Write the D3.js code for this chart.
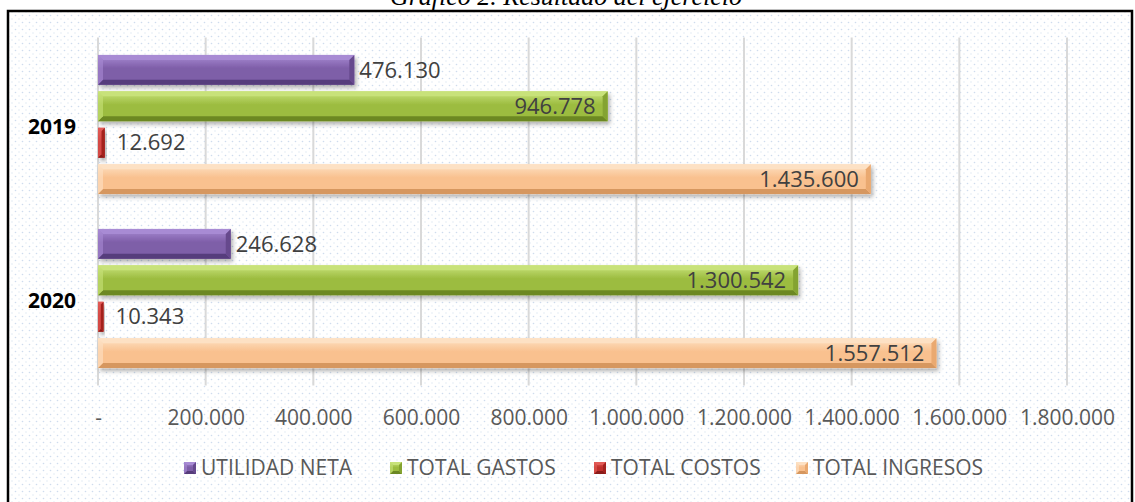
<!DOCTYPE html>
<html>
<head>
<meta charset="utf-8">
<script src="https://cdn.jsdelivr.net/npm/d3@7"></script>
<style>
  body { margin: 0; background: #fff; }
  svg { display: block; }
</style>
</head>
<body>
<div id="svg"></div>
<script>
var years = ["2019", "2020"]
var series = ["UTILIDAD NETA", "TOTAL GASTOS", "TOTAL COSTOS", "TOTAL INGRESOS"]
var utilidadNeta = [476130, 246628]
var totalGastos = [946778, 1300542]
var totalCostos = [12692, 10343]
var totalIngresos = [1435600, 1557512]
var tickValues = [0, 200000, 400000, 600000, 800000, 1000000, 1200000, 1400000, 1600000, 1800000]
var labelInside = [false, true, false, true]

// base, top bevel, bottom bevel, right bevel
var colors = [
    ["#7e5ea8", "#a88bd4", "#563c7b", "#66498d"],
    ["#9cbc40", "#c8e27a", "#6c8824", "#84a331"],
    ["#c0302c", "#e25b57", "#8a1b19", "#a3221f"],
    ["#f9c18f", "#fde1c4", "#d6975f", "#eaa970"]
]

var seriesValues = [utilidadNeta, totalGastos, totalCostos, totalIngresos]

var W = 1135, H = 502
var margin = {top: 37.5, left: 98, right: 1067, bottom: 385.5}

var svg = d3.select("#svg")
    .append("svg")
    .attr("width", W)
    .attr("height", H)

var defs = svg.append("defs")

var pat = defs.append("pattern")
    .attr("id", "dots")
    .attr("width", 7)
    .attr("height", 7)
    .attr("patternUnits", "userSpaceOnUse")
pat.append("rect").attr("width", 7).attr("height", 7).attr("fill", "#ffffff")
pat.append("circle").attr("cx", 1.5).attr("cy", 1.5).attr("r", 0.8).attr("fill", "#cfdcee")
pat.append("circle").attr("cx", 5).attr("cy", 5).attr("r", 0.7).attr("fill", "#dde6f3")

var shadow = defs.append("filter")
    .attr("id", "shadow")
    .attr("x", "-10%").attr("y", "-30%")
    .attr("width", "130%").attr("height", "180%")
shadow.append("feDropShadow")
    .attr("dx", 2).attr("dy", 3)
    .attr("stdDeviation", 2)
    .attr("flood-color", "#000")
    .attr("flood-opacity", 0.3)

colors.forEach(function(c, i) {
    var g = defs.append("linearGradient")
        .attr("id", "grad" + i)
        .attr("x1", 0).attr("y1", 0).attr("x2", 0).attr("y2", 1)
    g.append("stop").attr("offset", "0%").attr("stop-color", c[1])
    g.append("stop").attr("offset", "45%").attr("stop-color", c[0])
    g.append("stop").attr("offset", "100%").attr("stop-color", c[0])
})

// frame + background
svg.append("rect")
    .attr("x", 8).attr("y", 11)
    .attr("width", 1124).attr("height", 500)
    .attr("fill", "url(#dots)")
    .attr("stroke", "#000")
    .attr("stroke-width", 2.5)

svg.append("text")
    .attr("x", 566)
    .attr("y", 5)
    .attr("text-anchor", "middle")
    .style("font-family", "'Liberation Serif', 'Times New Roman', serif")
    .style("font-style", "italic")
    .style("font-size", "26px")
    .style("fill", "#000")
    .text("Gráfico 2. Resultado del ejercicio")

var x = d3.scaleLinear()
    .domain([0, 1800000])
    .range([margin.left, margin.right])

var y = d3.scaleBand()
    .domain(years)
    .range([margin.top, margin.bottom])
    .paddingInner(0.2)
    .paddingOuter(0.1)

var ySub = d3.scaleBand()
    .domain(series)
    .range([0, y.bandwidth()])
    .paddingInner(0.18)

// gridlines
svg.append("g")
    .selectAll("line")
    .data(tickValues)
    .enter()
    .append("line")
    .attr("x1", function(d) { return x(d) })
    .attr("x2", function(d) { return x(d) })
    .attr("y1", margin.top)
    .attr("y2", margin.bottom)
    .style("stroke", "#d9d9d9")
    .style("stroke-width", 2)

var fmt = function(v) {
    if (v == 0) return "-"
    return d3.format(",")(v).replace(/,/g, ".")
}

var xAxis = svg.append("g")
    .attr("transform", "translate(0," + 418 + ")")
    .call(d3.axisBottom(x).tickValues(tickValues).tickFormat(fmt).tickSize(0).tickPadding(0))
xAxis.select(".domain").remove()
xAxis.selectAll("text")
    .attr("dy", "0.35em")
    .style("font-family", "'Open Sans', sans-serif")
    .style("font-size", "21px")
    .style("fill", "#595959")

// category labels
svg.append("g")
    .selectAll("text")
    .data(years)
    .enter()
    .append("text")
    .attr("x", 76)
    .attr("y", function(d) { return y(d) + y.bandwidth() / 2 + 2 })
    .attr("dy", "0.35em")
    .attr("text-anchor", "end")
    .style("font-family", "'Open Sans', sans-serif")
    .style("font-weight", "bold")
    .style("font-size", "21px")
    .style("fill", "#000")
    .text(function(d) { return d })

function bevelBar(g, x0, y0, w, h, ci, b) {
    var c = colors[ci]
    b = Math.min(b, w / 2, h / 2)
    var x1 = x0 + w, y1 = y0 + h
    g.append("rect")
        .attr("x", x0).attr("y", y0)
        .attr("width", w).attr("height", h)
        .attr("fill", "url(#grad" + ci + ")")
    g.append("polygon")
        .attr("points", [[x0, y0], [x1, y0], [x1 - b, y0 + b], [x0 + b, y0 + b]].join(" "))
        .attr("fill", c[1])
    g.append("polygon")
        .attr("points", [[x0, y1], [x1, y1], [x1 - b, y1 - b], [x0 + b, y1 - b]].join(" "))
        .attr("fill", c[2])
    g.append("polygon")
        .attr("points", [[x1, y0], [x1, y1], [x1 - b, y1 - b], [x1 - b, y0 + b]].join(" "))
        .attr("fill", c[3])
    g.append("polygon")
        .attr("points", [[x0, y0], [x0, y1], [x0 + b, y1 - b], [x0 + b, y0 + b]].join(" "))
        .attr("fill", c[1])
        .attr("opacity", 0.6)
}

// bars
years.forEach(function(yr, yi) {
    series.forEach(function(s, si) {
        var v = seriesValues[si][yi]
        var by = y(yr) + ySub(s)
        var bw = x(v) - x(0)
        var g = svg.append("g").attr("filter", "url(#shadow)")
        bevelBar(g, x(0), by, bw, ySub.bandwidth(), si, 5)
    })
})

// value labels
var labelGap = [5, 12, 12, 12]
years.forEach(function(yr, yi) {
    series.forEach(function(s, si) {
        var v = seriesValues[si][yi]
        var inside = labelInside[si]
        svg.append("text")
            .attr("x", inside ? x(v) - labelGap[si] : x(v) + labelGap[si])
            .attr("y", y(yr) + ySub(s) + ySub.bandwidth() / 2)
            .attr("dy", "0.35em")
            .attr("text-anchor", inside ? "end" : "start")
            .style("font-family", "'Open Sans', sans-serif")
            .style("font-size", "22px")
            .style("fill", "#404040")
            .text(fmt(v))
    })
})

// legend
var legendX = [184, 390, 594, 796]
var legend = svg.append("g")
series.forEach(function(s, si) {
    var lg = legend.append("g")
    bevelBar(lg, legendX[si], 462, 12, 12, si, 3)
    lg.append("text")
        .attr("x", legendX[si] + 17)
        .attr("y", 468)
        .attr("dy", "0.35em")
        .style("font-family", "'Open Sans', sans-serif")
        .style("font-size", "21px")
        .style("fill", "#595959")
        .text(s)
})
</script>
</body>
</html>
